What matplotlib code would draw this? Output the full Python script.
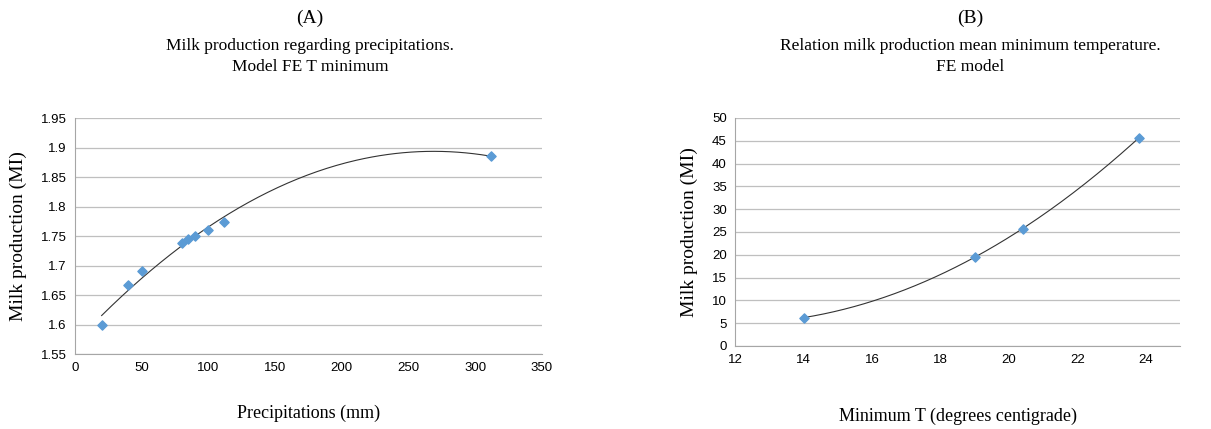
import numpy as np
import matplotlib
matplotlib.use("Agg")
import matplotlib.pyplot as plt

# (A) milk production vs precipitation
precip = [20, 40, 50, 80, 85, 90, 100, 112, 312]
milk_a = [1.600, 1.667, 1.690, 1.738, 1.745, 1.750, 1.761, 1.773, 1.886]

# (B) milk production vs minimum temperature
tmin = [14, 19, 20.4, 23.8]
milk_b = [6.2, 19.6, 25.6, 45.7]

serif = "Liberation Serif"
sans = "Liberation Sans"
blue = "#5b9bd5"
grid_c = "#bfbfbf"

fig = plt.figure(figsize=(12.11, 4.29), dpi=100)


def style(ax):
    ax.grid(axis="y", color=grid_c, linewidth=0.9)
    ax.set_axisbelow(True)
    for s in ["top", "right"]:
        ax.spines[s].set_visible(False)
    for s in ["left", "bottom"]:
        ax.spines[s].set_color("#a6a6a6")
    ax.tick_params(length=0, labelsize=9.5, pad=6)
    for lab in ax.get_xticklabels() + ax.get_yticklabels():
        lab.set_fontfamily(sans)


# panel A
ax1 = fig.add_axes([0.0619, 0.1748, 0.3856, 0.550])
ax1.scatter(precip, milk_a, marker="D", s=22, color=blue, zorder=3)
c1 = np.polyfit(precip, milk_a, 2)
xa = np.linspace(min(precip), max(precip), 200)
ax1.plot(xa, np.polyval(c1, xa), color="#333333", linewidth=0.8, zorder=2)
ax1.set_xlim(0, 350)
ax1.set_ylim(1.55, 1.95)
ax1.set_xticks(np.arange(0, 351, 50))
ax1.set_yticks(np.arange(1.55, 1.951, 0.05))
ax1.set_yticklabels(["1.55", "1.6", "1.65", "1.7", "1.75", "1.8", "1.85", "1.9", "1.95"])
style(ax1)
ax1.set_ylabel("Milk production (MI)", fontfamily=serif, fontsize=14, labelpad=10)
ax1.set_xlabel("Precipitations (mm)", fontfamily=serif, fontsize=13, labelpad=22)

# panel B
ax2 = fig.add_axes([0.607, 0.1935, 0.3675, 0.5315])
ax2.scatter(tmin, milk_b, marker="D", s=22, color=blue, zorder=3)
c2 = np.polyfit(tmin, milk_b, 2)
xb = np.linspace(min(tmin), max(tmin), 200)
ax2.plot(xb, np.polyval(c2, xb), color="#333333", linewidth=0.8, zorder=2)
ax2.set_xlim(12, 25)
ax2.set_ylim(0, 50)
ax2.set_xticks(np.arange(12, 25, 2))
ax2.set_yticks(np.arange(0, 51, 5))
style(ax2)
ax2.set_ylabel("Milk production (MI)", fontfamily=serif, fontsize=14, labelpad=10)
ax2.set_xlabel("Minimum T (degrees centigrade)", fontfamily=serif, fontsize=13, labelpad=30)

# titles
fig.text(0.256, 0.958, "(A)", ha="center", va="center", fontfamily=serif, fontsize=14)
fig.text(0.256, 0.893, "Milk production regarding precipitations.", ha="center", va="center",
         fontfamily=serif, fontsize=12.5)
fig.text(0.256, 0.843, "Model FE T minimum", ha="center", va="center", fontfamily=serif, fontsize=12.5)
fig.text(0.801, 0.958, "(B)", ha="center", va="center", fontfamily=serif, fontsize=14)
fig.text(0.801, 0.893, "Relation milk production mean minimum temperature.", ha="center", va="center",
         fontfamily=serif, fontsize=12.5)
fig.text(0.801, 0.843, "FE model", ha="center", va="center", fontfamily=serif, fontsize=12.5)

fig.savefig("out.png", dpi=100)
